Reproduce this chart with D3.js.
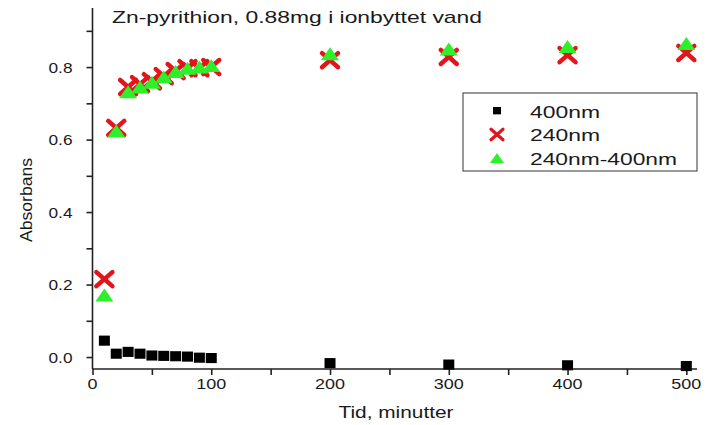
<!DOCTYPE html>
<html><head><meta charset="utf-8">
<script src="https://cdn.jsdelivr.net/npm/d3@7"></script>
<style>body{margin:0;background:#fff;} text{font-family:"Liberation Sans",Arial,sans-serif;fill:#1a1a1a;}</style>
</head><body>
<svg id="c" width="715" height="425"></svg>
<script>
const times = [10,20,30,40,50,60,70,80,90,100,200,300,400,500];
const abs400 = [0.044,0.008,0.013,0.008,0.003,0.002,0.001,0.000,-0.003,-0.004,-0.018,-0.022,-0.024,-0.026];
const abs240 = [0.215,0.632,0.745,0.753,0.761,0.775,0.789,0.797,0.797,0.800,0.819,0.828,0.833,0.839];
const absDiff = [0.171,0.624,0.732,0.745,0.758,0.773,0.788,0.797,0.800,0.804,0.837,0.850,0.857,0.865];
const xTicks = [0,100,200,300,400,500];
const yTicks = [0.0,0.2,0.4,0.6,0.8];
const legendLabels = ["400nm","240nm","240nm-400nm"];
const title = "Zn-pyrithion, 0.88mg i ionbyttet vand";

const svg = d3.select("#c");
const x = d3.scaleLinear().domain([0,509]).range([92.5,697]);
const y = d3.scaleLinear().domain([-0.033,0.963]).range([369,8]);

// custom symbol types
const crossType = {draw(ctx,size){const a=size*0.5, b=size*0.44; ctx.moveTo(-a,-b);ctx.lineTo(a,b);ctx.moveTo(-a,b);ctx.lineTo(a,-b);}};
const triType = {draw(ctx,size){const w=size*0.5,h=size*0.36; ctx.moveTo(0,-h);ctx.lineTo(w,h);ctx.lineTo(-w,h);ctx.closePath();}};
const sqType = {draw(ctx,size){const s=size/2; ctx.rect(-s,-s,size,size*0.92);}};

// axes
const gx = svg.append("g").attr("transform","translate(0,369)");
gx.call(d3.axisBottom(x).tickValues(d3.range(0,501,50)).tickSize(6).tickFormat(""));
gx.select(".domain").attr("d","M92.5,0H697").attr("stroke","#222").attr("stroke-width",1.6);
gx.selectAll("line").attr("stroke","#222").attr("stroke-width",1.6);
xTicks.forEach(v=>{
  const t=String(v);
  gx.append("text").attr("x",x(v)).attr("y",20).attr("text-anchor","middle").style("font-size","15px")
    .attr("textLength",t.length*10).attr("lengthAdjust","spacingAndGlyphs").text(t);
});

const gy = svg.append("g").attr("transform","translate(92.5,0)");
gy.call(d3.axisLeft(y).tickValues(d3.range(0,10).map(i=>i/10)).tickSize(6).tickFormat(""));
gy.select(".domain").attr("d","M0,8V369").attr("stroke","#222").attr("stroke-width",1.6);
gy.selectAll("line").attr("stroke","#222").attr("stroke-width",1.6);
yTicks.forEach(v=>{
  gy.append("text").attr("x",-20).attr("y",y(v)+5.5).attr("text-anchor","end").style("font-size","15px")
    .attr("textLength",24).attr("lengthAdjust","spacingAndGlyphs").text(v.toFixed(1));
});

svg.append("text").attr("x",396).attr("y",418).attr("text-anchor","middle").style("font-size","16px")
  .attr("textLength",115).attr("lengthAdjust","spacingAndGlyphs").text("Tid, minutter");
svg.append("text").attr("transform","translate(32,200) rotate(-90)").attr("text-anchor","middle").style("font-size","17px")
  .attr("textLength",84).attr("lengthAdjust","spacingAndGlyphs").text("Absorbans");
svg.append("text").attr("x",112).attr("y",23).style("font-size","17px")
  .attr("textLength",370).attr("lengthAdjust","spacingAndGlyphs").text(title);

const red = "#e3141b", green = "#2ef02a";

svg.append("g").selectAll("path").data(times).join("path")
  .attr("transform",(d,i)=>`translate(${x(d)},${y(abs400[i])})`).attr("d",d3.symbol().type(sqType).size(11)).attr("fill","#000");
svg.append("g").selectAll("path").data(times).join("path")
  .attr("transform",(d,i)=>`translate(${x(d)},${y(abs240[i])})`).attr("d",d3.symbol().type(crossType).size(16))
  .attr("fill","none").attr("stroke",red).attr("stroke-width",4.5).attr("stroke-linecap","round");
svg.append("g").selectAll("path").data(times).join("path")
  .attr("transform",(d,i)=>`translate(${x(d)},${y(absDiff[i])})`).attr("d",d3.symbol().type(triType).size(18)).attr("fill",green);

// legend
const lg = svg.append("g");
lg.append("rect").attr("x",463).attr("y",93).attr("width",234).attr("height",78).attr("fill","#fff").attr("stroke","#555").attr("stroke-width",1.2);
legendLabels.forEach((t,i)=>{
  const yy=111+i*23.5;
  const p = lg.append("path").attr("transform",`translate(497,${yy})`);
  if(i===0) p.attr("d",d3.symbol().type(sqType).size(8)).attr("fill","#000");
  if(i===1) p.attr("d",d3.symbol().type(crossType).size(12)).attr("fill","none").attr("stroke",red).attr("stroke-width",3.2).attr("stroke-linecap","round");
  if(i===2) p.attr("d",d3.symbol().type(triType).size(14)).attr("fill",green);
  const w = [70,70,147][i];
  lg.append("text").attr("x",530).attr("y",yy+6.5).style("font-size","17px")
    .attr("textLength",w).attr("lengthAdjust","spacingAndGlyphs").text(t);
});
</script>
</body></html>
